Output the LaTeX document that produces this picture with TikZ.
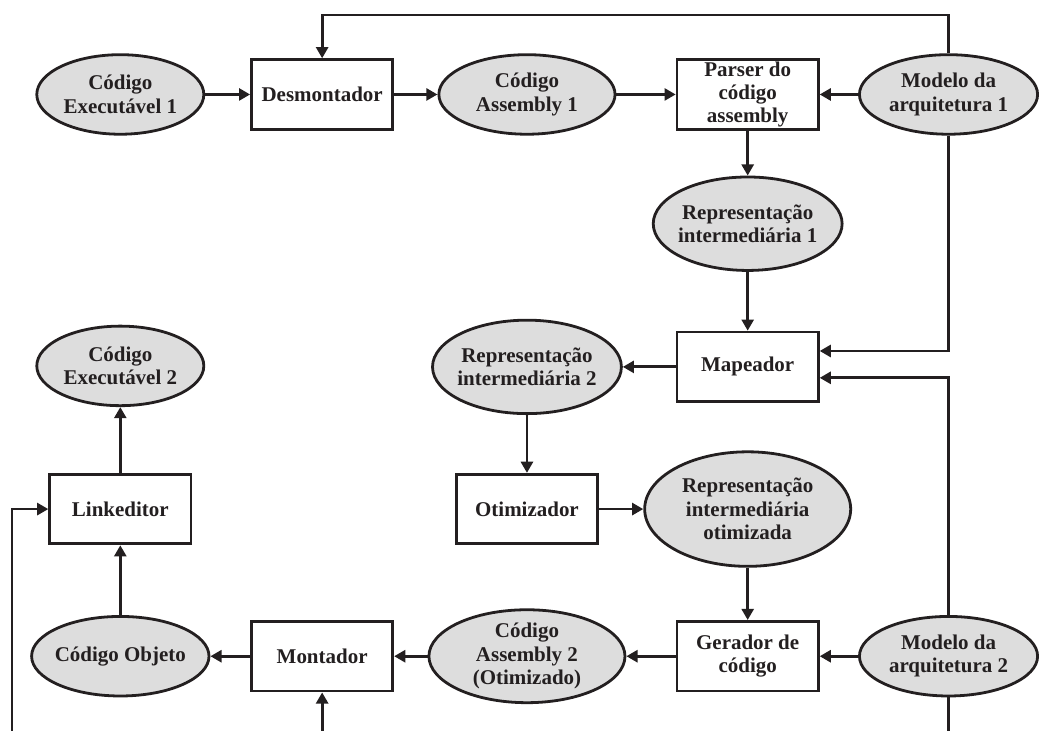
\documentclass[tikz,border=0pt]{standalone}
\usepackage{fontspec}
\setmainfont{Liberation Serif}
\usetikzlibrary{positioning, shapes, arrows.meta}
\definecolor{ink}{RGB}{35,31,32}
\definecolor{datagray}{RGB}{221,221,221}

\begin{document}
\begin{tikzpicture}[
    on grid,
    every node/.style={font=\bfseries\fontsize{15}{16.7}\selectfont, text=ink},
    procbox/.style={rectangle, draw=ink, line width=2pt, fill=white, align=center, minimum width=3.55cm, minimum height=1.75cm, inner sep=0pt},
    dataell/.style={ellipse, draw=ink, line width=2pt, fill=datagray, align=center, minimum width=4.2cm, minimum height=2cm, inner xsep=-2pt, inner ysep=0pt},
    myarrow/.style={-{Triangle[length=0.28cm, width=0.3cm]}, draw=ink, line width=2pt}
]

    \node[dataell] (exec1) at (0,0) {Código\\Executável 1};
    \node[procbox, right=5.075cm of exec1] (desm) {Desmontador};
    \node[dataell, right=5.15cm of desm, minimum width=4.43cm] (asm1) {Código\\Assembly 1};
    \node[procbox, right=5.55cm of asm1] (parser) {Parser do\\código\\assembly};
    \node[dataell, right=5.05cm of parser, minimum width=4.48cm] (mod1) {Modelo da\\arquitetura 1};

    \path[use as bounding box] ([xshift=-3.025cm, yshift=2.375cm]exec1.center) rectangle ++(25.975cm,-18.375cm);

    \node[dataell, below=3.25cm of parser, minimum width=4.68cm, minimum height=2.35cm] (rep1) {Representação\\intermediária 1};
    \node[procbox, below=3.6cm of rep1] (map) {Mapeador};
    \node[dataell, left=5.55cm of map, minimum width=4.68cm, minimum height=2.35cm] (rep2) {Representação\\intermediária 2};
    \node[procbox, below=3.575cm of rep2] (otim) {Otimizador};
    \node[dataell, right=5.55cm of otim, minimum width=5.18cm, minimum height=2.88cm] (repopt) {Representação\\intermediária\\otimizada};
    \node[procbox, below=3.7cm of repopt] (ger) {Gerador de\\código};
    \node[dataell, right=5.05cm of ger, minimum width=4.48cm] (mod2) {Modelo da\\arquitetura 2};
    \node[dataell, left=5.55cm of ger, minimum width=4.93cm] (asm2) {Código\\Assembly 2\\(Otimizado)};
    \node[procbox, left=5.15cm of asm2] (mont) {Montador};
    \node[dataell, left=5.075cm of mont, minimum width=4.3cm] (obj) {Código Objeto};
    \node[procbox, above=3.7cm of obj] (link) {Linkeditor};
    \node[dataell, above=3.6cm of link] (exec2) {Código\\Executável 2};

    \coordinate[above=2cm of desm] (desmin);
    \coordinate[below=1.95cm of mont] (montin);
    \coordinate[below=1.95cm of mod2] (mod2out);
    \coordinate[below left=5.65cm and 2.725cm of link] (linkin);

    \draw[myarrow] (exec1) -- (desm);
    \draw[myarrow] (desm) -- (asm1);
    \draw[myarrow] (asm1) -- (parser);
    \draw[myarrow] (mod1) -- (parser);
    \draw[myarrow] (mod1) |- (desmin) -- (desm);

    \draw[myarrow] (parser) -- (rep1);
    \draw[myarrow] (rep1) -- (map);
    \draw[myarrow] (mod1) |- ([yshift=0.4cm]map.east);
    \draw[myarrow] (mod2) |- ([yshift=-0.275cm]map.east);
    \draw[myarrow] (map) -- (rep2);

    \draw[myarrow] (rep2) -- (otim);
    \draw[myarrow] (otim) -- (repopt);
    \draw[myarrow] (repopt) -- (ger);
    \draw[myarrow] (mod2) -- (ger);
    \draw[ink, line width=2pt] (mod2) -- (mod2out);

    \draw[myarrow] (ger) -- (asm2);
    \draw[myarrow] (asm2) -- (mont);
    \draw[myarrow] (mont) -- (obj);
    \draw[myarrow] (montin) -- (mont);

    \draw[myarrow] (obj) -- (link);
    \draw[myarrow] (link) -- (exec2);
    \draw[myarrow] (linkin) |- (link);

\end{tikzpicture}
\end{document}
